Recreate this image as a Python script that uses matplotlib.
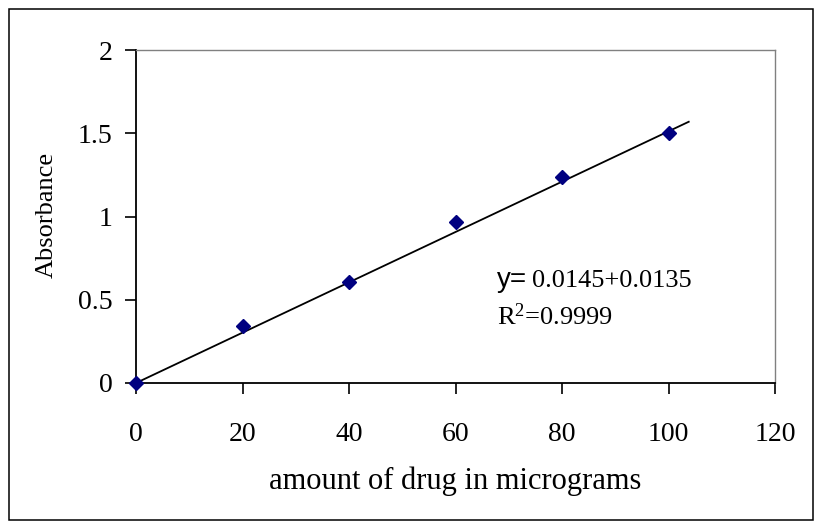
import matplotlib
matplotlib.use("Agg")
import matplotlib.pyplot as plt
from matplotlib.patches import Rectangle

# Data
drug_ug = [0, 20, 40, 60, 80, 100]
absorbance = [0.0, 0.342, 0.608, 0.965, 1.235, 1.503]
trend_x = [0, 103.8]
trend_y = [0.0, 1.569]
x_ticks = [0, 20, 40, 60, 80, 100, 120]
y_ticks = [0, 0.5, 1, 1.5, 2]
y_tick_labels = ["0", "0.5", "1", "1.5", "2"]

plt.rcParams['mathtext.fontset'] = 'custom'
plt.rcParams['mathtext.rm'] = 'Liberation Serif'
plt.rcParams['mathtext.it'] = 'Liberation Serif:italic'
serif = 'Liberation Serif'

fig = plt.figure(figsize=(8.25, 5.3), dpi=100)
ax = fig.add_axes([136/825, 1-383/530, (775-136)/825, (383-50)/530])

ax.plot(trend_x, trend_y, color='black', lw=1.3, zorder=3)
ax.plot(drug_ug, absorbance, linestyle='none', marker='D', markersize=7,
        color='#000080', zorder=4, clip_on=False)

ax.set_xlim(0, 120)
ax.set_ylim(0, 2)
ax.set_xticks(x_ticks)
ax.set_xticklabels([str(v) for v in x_ticks], fontfamily=serif, fontsize=20)
ax.set_yticks(y_ticks)
ax.set_yticklabels(y_tick_labels, fontfamily=serif, fontsize=20)
ax.tick_params(axis='x', direction='out', length=8, width=1.2, pad=20, color='black')
ax.tick_params(axis='y', direction='out', length=8, width=1.2, pad=9, color='black')

for s in ['left', 'bottom']:
    ax.spines[s].set_color('black')
    ax.spines[s].set_linewidth(1.3)
for s in ['top', 'right']:
    ax.spines[s].set_color('#808080')
    ax.spines[s].set_linewidth(1.0)

ax.set_xlabel('amount of drug in micrograms', fontfamily=serif, fontsize=22)
ax.xaxis.set_label_coords(0.499, -0.25)
ax.set_ylabel('Absorbance', fontfamily=serif, fontsize=19)
ax.yaxis.set_label_coords(-0.122, 0.505)

fig.text(497/825, 1-287/530, 'y=', fontfamily='Liberation Sans', fontsize=20,
         va='baseline', ha='left')
fig.text(532/825, 1-287/530, '0.0145+0.0135', fontfamily=serif, fontsize=19,
         va='baseline', ha='left')
fig.text(497/825, 1-325/530, r'R$^{2}$=0.9999', fontfamily=serif, fontsize=19,
         va='baseline', ha='left')

fig.patches.append(Rectangle((9/825, 1-520/530), (813-9)/825, (520-9)/530,
                             transform=fig.transFigure, fill=False,
                             edgecolor='black', lw=1.1))

fig.savefig('out.png', dpi=100)
